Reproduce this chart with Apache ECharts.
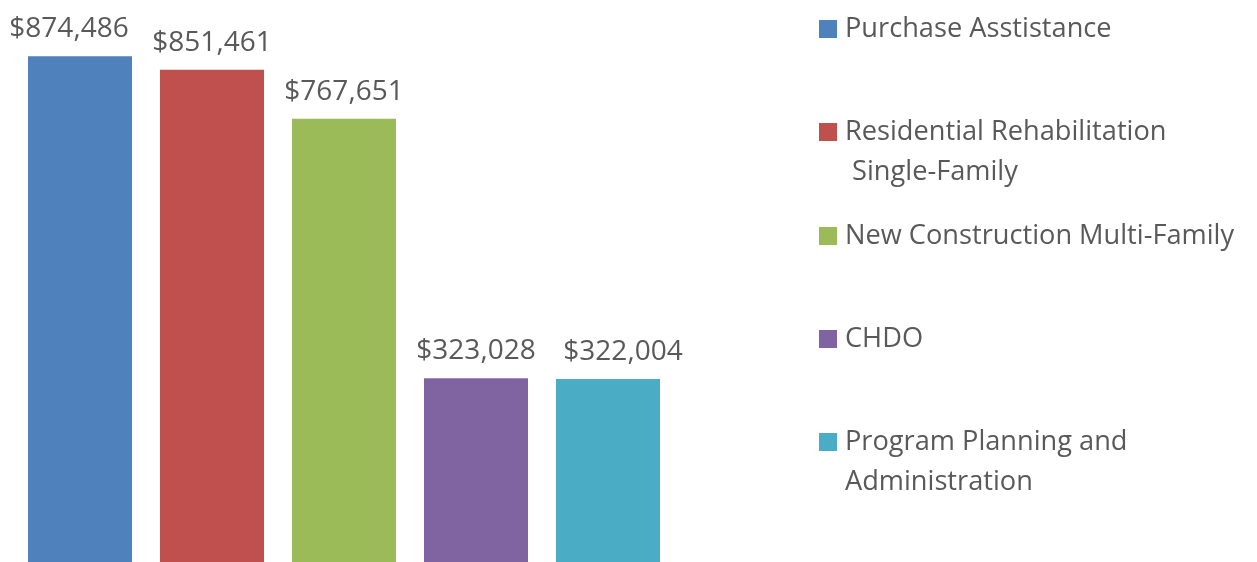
<!DOCTYPE html>
<html>
<head>
<meta charset="utf-8">
<script src="https://cdn.jsdelivr.net/npm/echarts@6/dist/echarts.min.js"></script>
<style>
html,body{margin:0;padding:0;background:#fff;}
#chart{width:1257px;height:562px;}
</style>
</head>
<body>
<div id="chart"></div>
<script>
const categories = ['Purchase Asstistance', 'Residential Rehabilitation Single-Family', 'New Construction Multi-Family', 'CHDO', 'Program Planning and Administration'];
const legendLabels = ['Purchase Asstistance', ' \nResidential Rehabilitation\n Single-Family', 'New Construction Multi-Family', 'CHDO', ' \nProgram Planning and\nAdministration'];
const values = [874486, 851461, 767651, 323028, 322004];
const colors = ['#4F81BD', '#C0504D', '#9BBB59', '#8064A2', '#4BACC6'];

const FONT = '"Open Sans", "Noto Sans", sans-serif';
const labelShift = [-11, 0, 0, 0, 15];
const chart = echarts.init(document.getElementById('chart'));

const series = categories.map((name, i) => ({
  name: name,
  type: 'bar',
  barWidth: 104,
  barGap: '-100%',
  itemStyle: { color: colors[i] },
  data: categories.map((c, j) => (j === i ? values[i] : '-')),
  label: {
    show: true,
    position: 'top',
    distance: 13,
    offset: [labelShift[i], 0],
    color: '#595959',
    fontFamily: FONT,
    fontSize: 28,
    formatter: p => '$' + p.value.toLocaleString('en-US')
  }
}));

const legendTops = [9, 72, 216, 319, 382];
const legends = categories.map((name, i) => ({
  orient: 'vertical',
  left: 819,
  top: legendTops[i],
  padding: 0,
  itemWidth: 21,
  itemHeight: 18,
  icon: 'path://M0,0H18V18H0Z M21,18L21,18',
  selectedMode: false,
  data: [name],
  formatter: () => legendLabels[i],
  textStyle: {
    color: '#595959',
    fontFamily: FONT,
    fontSize: 27.2,
    lineHeight: 40
  }
}));

chart.setOption({
  animation: false,
  backgroundColor: '#ffffff',
  grid: { left: 14, right: 583, top: 0, height: 567, containLabel: false, outerBoundsMode: 'none' },
  xAxis: {
    type: 'category',
    data: categories,
    axisLine: { show: false },
    axisTick: { show: false },
    axisLabel: { show: false }
  },
  yAxis: {
    type: 'value',
    min: 0,
    max: 971000,
    splitLine: { show: false },
    axisLine: { show: false },
    axisTick: { show: false },
    axisLabel: { show: false }
  },
  legend: legends,
  series: series
});
</script>
</body>
</html>
